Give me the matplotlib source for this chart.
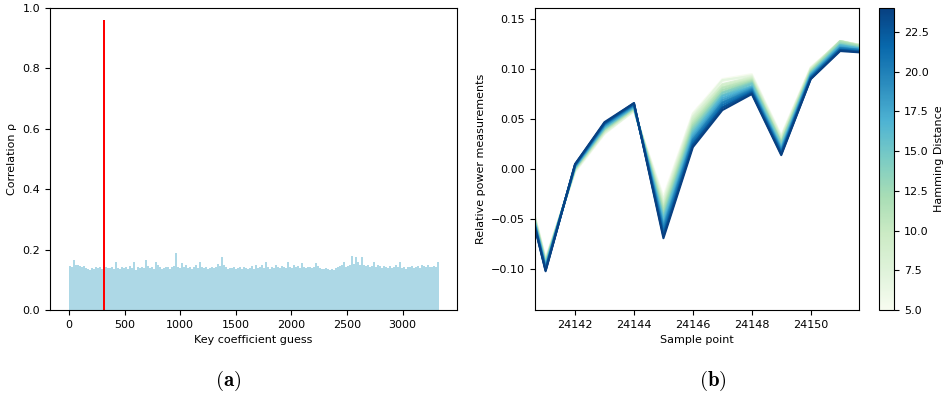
import numpy as np
import matplotlib
matplotlib.use("Agg")
import matplotlib.pyplot as plt
from matplotlib import cm, colors

plt.rcParams['mathtext.fontset'] = 'cm'

# ---------------- (a) correlation per key guess (binned, 18 guesses per bin) ----------------
bin_size = 18
corr_bins = [
    0.146, 0.142, 0.165, 0.150, 0.148, 0.146, 0.144, 0.147, 0.140, 0.136,
    0.133, 0.140, 0.137, 0.142, 0.139, 0.141, 0.135, 0.138, 0.143, 0.140,
    0.138, 0.142, 0.137, 0.160, 0.140, 0.136, 0.141, 0.139, 0.143, 0.137,
    0.145, 0.138, 0.160, 0.132, 0.141, 0.138, 0.144, 0.140, 0.165, 0.146,
    0.139, 0.142, 0.137, 0.160, 0.150, 0.141, 0.136, 0.139, 0.143, 0.141,
    0.137, 0.142, 0.146, 0.190, 0.142, 0.138, 0.155, 0.141, 0.150, 0.139,
    0.141, 0.137, 0.143, 0.150, 0.139, 0.160, 0.141, 0.138, 0.142, 0.136,
    0.140, 0.143, 0.138, 0.141, 0.152, 0.145, 0.175, 0.149, 0.141, 0.137,
    0.140, 0.138, 0.142, 0.136, 0.139, 0.141, 0.137, 0.144, 0.138, 0.135,
    0.139, 0.146, 0.137, 0.150, 0.140, 0.141, 0.148, 0.138, 0.160, 0.142,
    0.137, 0.144, 0.139, 0.150, 0.143, 0.138, 0.145, 0.141, 0.139, 0.160,
    0.143, 0.140, 0.148, 0.141, 0.146, 0.138, 0.155, 0.142, 0.139, 0.144,
    0.141, 0.138, 0.143, 0.155, 0.147, 0.140, 0.137, 0.135, 0.139, 0.136,
    0.134, 0.137, 0.133, 0.138, 0.141, 0.145, 0.148, 0.160, 0.142, 0.146,
    0.150, 0.180, 0.152, 0.175, 0.158, 0.148, 0.175, 0.150, 0.145, 0.148,
    0.143, 0.146, 0.160, 0.141, 0.149, 0.145, 0.140, 0.147, 0.143, 0.139,
    0.145, 0.140, 0.143, 0.148, 0.141, 0.160, 0.139, 0.142, 0.137, 0.144,
    0.141, 0.146, 0.139, 0.143, 0.147, 0.140, 0.148, 0.145, 0.142, 0.150,
    0.144, 0.141, 0.146, 0.143, 0.160,
]
correct_guess = 315
correct_corr = 0.96

# ---------------- (b) mean traces per Hamming distance ----------------
sample_points = [24140, 24141, 24142, 24143, 24144, 24145, 24146,
                 24147, 24148, 24149, 24150, 24151, 24152]
hamming = [5, 6, 7, 8, 9, 10, 11, 12, 13, 14, 15, 16, 17, 18, 19, 20, 21, 22, 23, 24]
traces = [
    [0.027, -0.089, -0.003, 0.035, 0.058, -0.027, 0.056, 0.090, 0.095, 0.034, 0.102, 0.127, 0.122],
    [0.026, -0.090, -0.002, 0.036, 0.059, -0.030, 0.055, 0.088, 0.094, 0.033, 0.101, 0.128, 0.122],
    [0.026, -0.090, -0.002, 0.036, 0.058, -0.031, 0.053, 0.089, 0.093, 0.032, 0.101, 0.127, 0.123],
    [0.025, -0.091, -0.001, 0.037, 0.059, -0.034, 0.052, 0.085, 0.092, 0.031, 0.100, 0.128, 0.122],
    [0.025, -0.092, -0.001, 0.038, 0.060, -0.036, 0.050, 0.084, 0.091, 0.030, 0.100, 0.128, 0.122],
    [0.024, -0.092, 0.000, 0.038, 0.060, -0.038, 0.048, 0.082, 0.090, 0.029, 0.099, 0.127, 0.121],
    [0.024, -0.093, 0.000, 0.039, 0.060, -0.040, 0.046, 0.081, 0.089, 0.027, 0.098, 0.128, 0.121],
    [0.023, -0.094, 0.001, 0.040, 0.061, -0.042, 0.044, 0.079, 0.088, 0.027, 0.098, 0.127, 0.121],
    [0.023, -0.094, 0.001, 0.040, 0.061, -0.045, 0.042, 0.077, 0.087, 0.026, 0.097, 0.126, 0.120],
    [0.022, -0.095, 0.001, 0.041, 0.062, -0.047, 0.040, 0.076, 0.086, 0.025, 0.096, 0.125, 0.120],
    [0.022, -0.096, 0.002, 0.041, 0.062, -0.049, 0.038, 0.074, 0.085, 0.023, 0.096, 0.124, 0.119],
    [0.021, -0.097, 0.002, 0.042, 0.062, -0.051, 0.036, 0.073, 0.083, 0.022, 0.095, 0.124, 0.119],
    [0.021, -0.097, 0.003, 0.043, 0.063, -0.054, 0.034, 0.071, 0.082, 0.021, 0.094, 0.123, 0.119],
    [0.020, -0.098, 0.003, 0.043, 0.063, -0.056, 0.032, 0.069, 0.081, 0.020, 0.094, 0.122, 0.118],
    [0.020, -0.099, 0.003, 0.044, 0.064, -0.058, 0.030, 0.067, 0.080, 0.019, 0.093, 0.121, 0.118],
    [0.019, -0.099, 0.004, 0.045, 0.064, -0.060, 0.029, 0.066, 0.079, 0.018, 0.092, 0.121, 0.118],
    [0.019, -0.100, 0.004, 0.045, 0.065, -0.063, 0.027, 0.064, 0.078, 0.017, 0.092, 0.120, 0.117],
    [0.019, -0.101, 0.004, 0.046, 0.065, -0.065, 0.025, 0.062, 0.077, 0.016, 0.091, 0.119, 0.117],
    [0.018, -0.101, 0.005, 0.046, 0.066, -0.067, 0.024, 0.061, 0.076, 0.015, 0.090, 0.119, 0.116],
    [0.018, -0.102, 0.005, 0.047, 0.066, -0.069, 0.022, 0.059, 0.075, 0.014, 0.090, 0.118, 0.116],
]

fig = plt.figure(figsize=(9.47, 4.0), dpi=100)
FS = 8

# ----- panel (a) -----
ax1 = fig.add_axes([50 / 947, 90 / 400, 407 / 947, 302 / 400])
n = len(corr_bins)
xs = np.arange(n) * bin_size + bin_size / 2 - 0.5
ax1.bar(xs, corr_bins, width=bin_size, color='lightblue', linewidth=0)
ax1.bar([correct_guess], [correct_corr], width=18, color='red', linewidth=0)
ax1.set_ylim(0, 1.0)
ax1.set_xlim(-170, 3490)
ax1.set_xticks([0, 500, 1000, 1500, 2000, 2500, 3000])
ax1.set_yticks([0.0, 0.2, 0.4, 0.6, 0.8, 1.0])
ax1.tick_params(labelsize=FS)
ax1.set_xlabel('Key coefficient guess', fontsize=FS)
ax1.set_ylabel('Correlation ρ', fontsize=FS)

# ----- panel (b) -----
ax2 = fig.add_axes([535 / 947, 90 / 400, 324 / 947, 302 / 400])
cmap = plt.get_cmap('GnBu')
norm = colors.Normalize(vmin=min(hamming), vmax=max(hamming))
for hd, tr in zip(hamming, traces):
    ax2.plot(sample_points, tr, color=cmap(norm(hd)), linewidth=1.5)
ax2.set_xlim(24140.64, 24151.64)
ax2.set_ylim(-0.1407, 0.161)
ax2.set_xticks([24142, 24144, 24146, 24148, 24150])
ax2.set_xticklabels(['24142', '24144', '24146', '24148', '24150'])
ax2.set_yticks([-0.10, -0.05, 0.00, 0.05, 0.10, 0.15])
ax2.tick_params(labelsize=FS)
ax2.set_xlabel('Sample point', fontsize=FS)
ax2.set_ylabel('Relative power measurements', fontsize=FS)

cax = fig.add_axes([879 / 947, 90 / 400, 15 / 947, 302 / 400])
sm = cm.ScalarMappable(norm=norm, cmap=cmap)
sm.set_array([])
cb = fig.colorbar(sm, cax=cax)
cb.set_ticks([5.0, 7.5, 10.0, 12.5, 15.0, 17.5, 20.0, 22.5])
cb.ax.tick_params(labelsize=FS)
cb.set_label('Hamming Distance', fontsize=FS)

fig.text(228 / 947, 1 - 381 / 400, r'$\mathbf{(a)}$', fontsize=15, ha='center', va='center')
fig.text(713 / 947, 1 - 381 / 400, r'$\mathbf{(b)}$', fontsize=15, ha='center', va='center')

fig.savefig('out.png', dpi=100)
